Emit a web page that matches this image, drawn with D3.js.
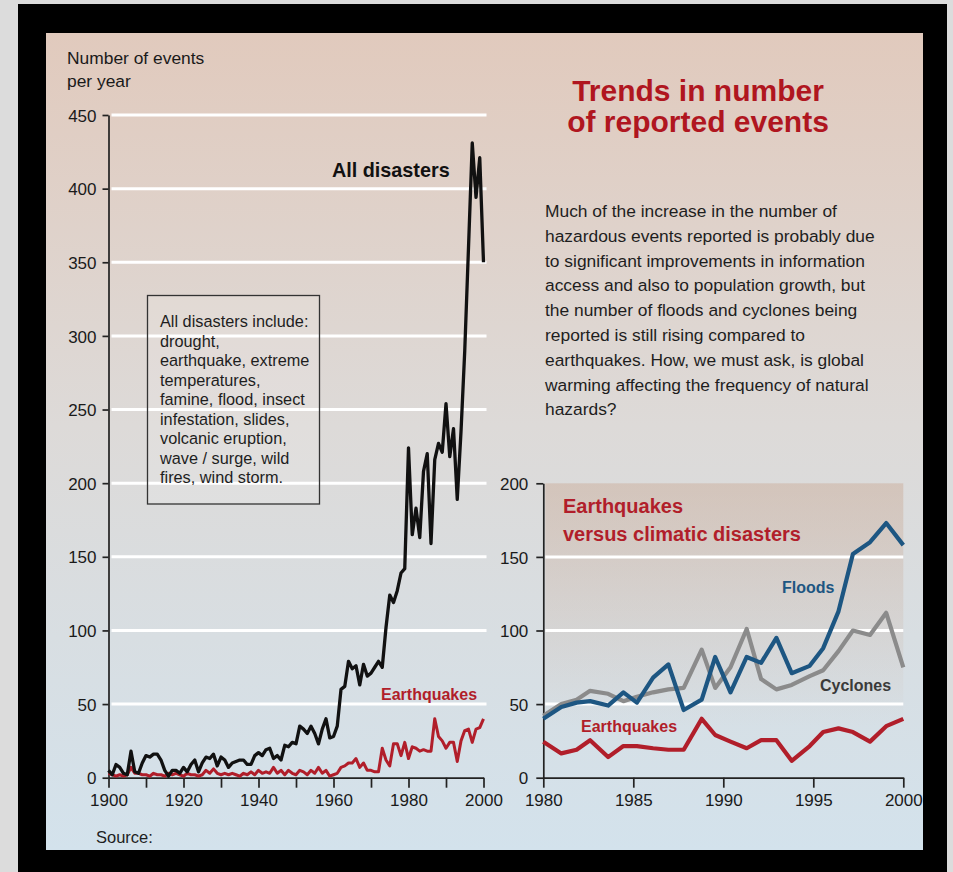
<!DOCTYPE html>
<html><head><meta charset="utf-8">
<script src="https://cdn.jsdelivr.net/npm/d3@7"></script>
<style>
body{margin:0;background:#dcdcdc;}
svg{display:block;}
text{font-family:"Liberation Sans", Arial, Helvetica, sans-serif;}
</style>
</head><body>
<svg id="chart" width="953" height="872"></svg>
<script>
// ---------------- DATA ----------------
const yearsLeft = d3.range(1900, 2001);
const allDisasters = [
  5, 2, 9, 7, 3, 2, 18, 4, 3, 10,          // 1900s
  15, 14, 16, 16, 12, 5, 1, 5, 5, 3,       // 1910s
  7, 4, 9, 12, 4, 10, 14, 13, 16, 8,       // 1920s
  14, 12, 7, 10, 11, 12, 12, 9, 9, 15,     // 1930s
  17, 15, 19, 20, 13, 15, 12, 22, 21, 24,  // 1940s
  23, 35, 33, 30, 35, 30, 23, 33, 40, 27,  // 1950s
  28, 35, 60, 62, 79, 74, 76, 63, 77, 69,  // 1960s
  71, 75, 79, 75, 102, 124, 119, 127, 139, 142, // 1970s
  224, 165, 183, 163, 208, 220, 159, 216, 227, 221, // 1980s
  254, 218, 237, 189, 235, 290, 360, 431, 394, 421, // 1990s
  350                                       // 2000
];
const earthquakesLeft = [
  3, 2, 1, 2, 1, 2, 7, 3, 3, 2,
  2, 1, 3, 2, 2, 1, 3, 2, 3, 2,
  1, 3, 2, 2, 1, 2, 5, 3, 6, 3,
  2, 3, 2, 3, 2, 1, 3, 2, 4, 2,
  5, 3, 4, 3, 7, 3, 5, 2, 5, 3,
  2, 5, 4, 2, 5, 3, 7, 3, 5, 1,
  2, 3, 7, 8, 10, 10, 13, 7, 10, 5,
  5, 4, 4, 20, 12, 8, 23, 23, 15, 24,
  13, 21, 20, 18, 19, 18, 18, 40, 28, 25,
  20, 24, 24, 11, 25, 32, 33, 24, 33, 34,
  40
];
const yearsRight = [1980, 1981, 1981.85, 1982.6, 1983.6, 1984.45, 1985.2, 1986.1, 1986.95, 1987.8,
  1988.8, 1989.55, 1990.4, 1991.3, 1992.1, 1992.95, 1993.8, 1994.8, 1995.55, 1996.4,
  1997.2, 1998.15, 1999.05, 2000];
const floods = [40, 48, 51, 52, 49, 58, 51, 68, 77, 46, 53, 82, 58, 82, 78, 95, 71, 76, 88, 113, 152, 160, 173, 158];
const cyclones = [42, 50, 53, 59, 57, 52, 55, 58, 60, 61, 87, 61, 75, 101, 67, 60, 63, 69, 73, 86, 100, 97, 112, 75];
const earthquakesRight = [24.5, 16.5, 19, 25.5, 14, 21.5, 21.5, 20, 19, 19, 40, 29, 24.5, 20, 25.5, 25.5, 11.5, 21.5, 31, 33.5, 31, 24.5, 35, 40];

const leftYTicks = [0, 50, 100, 150, 200, 250, 300, 350, 400, 450];
const leftGrid = [50, 100, 150, 200, 250, 300, 350, 400, 450];
const leftXTicks = [1900, 1910, 1920, 1930, 1940, 1950, 1960, 1970, 1980, 1990, 2000];
const leftXLabels = [1900, 1920, 1940, 1960, 1980, 2000];
const rightYTicks = [0, 50, 100, 150, 200];
const rightGrid = [50, 100, 150];
const rightXTicks = [1980, 1985, 1990, 1995, 2000];

const titleLines = ["Trends in number", "of reported events"];
const yAxisTitle = ["Number of events", "per year"];
const paragraph = [
  "Much of the increase in the number of",
  "hazardous events reported is probably due",
  "to significant improvements in information",
  "access and also to population growth, but",
  "the number of floods and cyclones being",
  "reported is still rising compared to",
  "earthquakes. How, we must ask, is global",
  "warming affecting the frequency of natural",
  "hazards?"
];
const boxLines = [
  "All disasters include:",
  "drought,",
  "earthquake, extreme",
  "temperatures,",
  "famine, flood, insect",
  "infestation, slides,",
  "volcanic eruption,",
  "wave / surge, wild",
  "fires, wind storm."
];
const insetTitle = ["Earthquakes", "versus climatic disasters"];

// ---------------- DRAW ----------------
const svg = d3.select("#chart");
const defs = svg.append("defs");
const bg = defs.append("linearGradient").attr("id", "bgGrad").attr("x1", 0).attr("y1", 0).attr("x2", 0).attr("y2", 1);
bg.append("stop").attr("offset", "0%").attr("stop-color", "#e1cabd");
bg.append("stop").attr("offset", "48%").attr("stop-color", "#dddad8");
bg.append("stop").attr("offset", "100%").attr("stop-color", "#d3e2ec");
const sh = defs.append("linearGradient").attr("id", "shadeGrad").attr("x1", 0).attr("y1", 0).attr("x2", 0).attr("y2", 1);
sh.append("stop").attr("offset", "0%").attr("stop-color", "#c8a58f").attr("stop-opacity", 0.42);
sh.append("stop").attr("offset", "100%").attr("stop-color", "#c8a58f").attr("stop-opacity", 0.0);

// outer frame
svg.append("rect").attr("x", 18).attr("y", 4).attr("width", 929).attr("height", 880).attr("fill", "#000");
svg.append("rect").attr("x", 46).attr("y", 33).attr("width", 877).attr("height", 817).attr("fill", "url(#bgGrad)");

// scales
const xL = d3.scaleLinear().domain([1900, 2000]).range([108.5, 483.5]);
const yL = d3.scaleLinear().domain([0, 450]).range([777.7, 115]);
const xR = d3.scaleLinear().domain([1980, 2000]).range([543.3, 903.3]);
const yR = d3.scaleLinear().domain([0, 200]).range([777.7, 483.3]);

const red = "#b11e2a";

// right chart shade
svg.append("rect")
  .attr("x", xR(1980) + 2).attr("y", yR(200))
  .attr("width", xR(2000) - xR(1980) - 2).attr("height", yR(35) - yR(200))
  .attr("fill", "url(#shadeGrad)");

// gridlines left
svg.append("g").selectAll("line").data(leftGrid).join("line")
  .attr("x1", xL(1900) + 3).attr("x2", xL(2000) + 3)
  .attr("y1", d => yL(d)).attr("y2", d => yL(d))
  .attr("stroke", "#ffffff").attr("stroke-width", 3);
// gridlines right
svg.append("g").selectAll("line").data(rightGrid).join("line")
  .attr("x1", xR(1980) + 2).attr("x2", xR(2000))
  .attr("y1", d => yR(d)).attr("y2", d => yR(d))
  .attr("stroke", "#ffffff").attr("stroke-width", 3);

// axes
function styleAxis(g) {
  g.selectAll("path.domain").attr("stroke", "#222").attr("stroke-width", 1.7);
  g.selectAll(".tick line").attr("stroke", "#222").attr("stroke-width", 1.7);
  g.selectAll(".tick text").attr("fill", "#1a1a1a").style("font-size", "17px")
    .style("font-family", '"Liberation Sans", Arial, sans-serif');
}
const axL = svg.append("g").attr("transform", `translate(${xL(1900)},0)`)
  .call(d3.axisLeft(yL).tickValues(leftYTicks).tickSize(6).tickSizeOuter(0).tickPadding(6));
styleAxis(axL);
axL.selectAll(".tick text").attr("dy", "0.36em");
const axLB = svg.append("g").attr("transform", `translate(0,${yL(0)})`)
  .call(d3.axisBottom(xL).tickValues(leftXTicks).tickSize(10).tickSizeOuter(0).tickPadding(6)
    .tickFormat(d => leftXLabels.includes(d) ? String(d) : ""));
styleAxis(axLB);

const axR = svg.append("g").attr("transform", `translate(${xR(1980)},0)`)
  .call(d3.axisLeft(yR).tickValues(rightYTicks).tickSize(7).tickSizeOuter(0).tickPadding(8));
styleAxis(axR);
axR.selectAll(".tick text").attr("dy", "0.36em");
const axRB = svg.append("g").attr("transform", `translate(0,${yR(0)})`)
  .call(d3.axisBottom(xR).tickValues(rightXTicks).tickSize(10).tickSizeOuter(0).tickPadding(6)
    .tickFormat(d => String(d)));
styleAxis(axRB);

// lines left
const lineL = d3.line().x((d, i) => xL(yearsLeft[i])).y(d => yL(d));
svg.append("path").datum(earthquakesLeft).attr("d", lineL)
  .attr("fill", "none").attr("stroke", red).attr("stroke-width", 3).attr("stroke-linejoin", "round");
svg.append("path").datum(allDisasters).attr("d", lineL)
  .attr("fill", "none").attr("stroke", "#111").attr("stroke-width", 3.3).attr("stroke-linejoin", "round");

// lines right
const lineR = d3.line().x((d, i) => xR(yearsRight[i])).y(d => yR(d));
svg.append("path").datum(cyclones).attr("d", lineR)
  .attr("fill", "none").attr("stroke", "#8b8b8b").attr("stroke-width", 4.2).attr("stroke-linejoin", "round");
svg.append("path").datum(floods).attr("d", lineR)
  .attr("fill", "none").attr("stroke", "#1d5682").attr("stroke-width", 4.2).attr("stroke-linejoin", "round");
svg.append("path").datum(earthquakesRight).attr("d", lineR)
  .attr("fill", "none").attr("stroke", red).attr("stroke-width", 4.2).attr("stroke-linejoin", "round");

// texts
function lines(arr, x, y0, dy, opts) {
  const t = svg.append("text").attr("x", x).attr("y", y0)
    .attr("fill", opts.fill || "#1a1a1a")
    .style("font-size", opts.size + "px")
    .style("font-weight", opts.weight || "normal")
    .attr("text-anchor", opts.anchor || "start");
  arr.forEach((s, i) => t.append("tspan").attr("x", x).attr("y", y0 + i * dy).text(s));
  return t;
}
lines(yAxisTitle, 67, 64, 23, {size: 17.4});
lines(titleLines, 698, 101, 31, {size: 30, weight: "bold", fill: "#b0161f", anchor: "middle"});
lines(paragraph, 545, 217, 24.8, {size: 17.4, fill: "#1e1e1e"});

// legend-like box
svg.append("rect").attr("x", 147.5).attr("y", 295.5).attr("width", 172).attr("height", 208.5)
  .attr("fill", "rgba(255,255,255,0.12)").attr("stroke", "#333").attr("stroke-width", 1.3);
lines(boxLines, 160, 327, 19.5, {size: 16.3, fill: "#1e1e1e"});

lines(["All disasters"], 332, 177, 0, {size: 19.8, weight: "bold", fill: "#111"});
lines(["Earthquakes"], 381, 700, 0, {size: 16, weight: "bold", fill: red});

lines(insetTitle, 563, 513, 28, {size: 20, weight: "bold", fill: red});
lines(["Floods"], 782, 593, 0, {size: 16, weight: "bold", fill: "#1d5682"});
lines(["Cyclones"], 820, 691, 0, {size: 16, weight: "bold", fill: "#3a3a3a"});
lines(["Earthquakes"], 581, 732, 0, {size: 16, weight: "bold", fill: red});

lines(["Source:"], 96, 843, 0, {size: 16.5, fill: "#1e1e1e"});
</script>
</body></html>
